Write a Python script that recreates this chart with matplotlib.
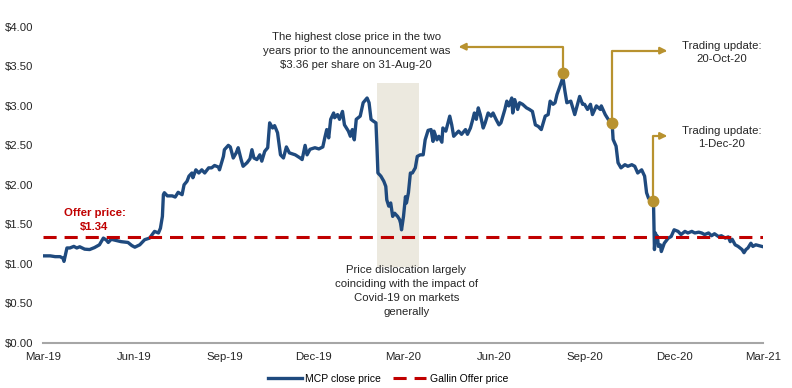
import matplotlib
matplotlib.use("Agg")
import matplotlib.pyplot as plt
import matplotlib.dates as mdates
import pandas as pd

plt.rcParams['font.family'] = ['Liberation Sans', 'DejaVu Sans']

# MCP closing prices
dates = [
    '2019-03-22', '2019-03-29', '2019-04-03', '2019-04-08', '2019-04-11', '2019-04-12', '2019-04-15', '2019-04-18',
    '2019-04-22', '2019-04-25', '2019-04-28', '2019-05-03', '2019-05-08', '2019-05-13', '2019-05-18', '2019-05-22',
    '2019-05-25', '2019-05-27', '2019-05-30', '2019-06-04', '2019-06-09', '2019-06-16', '2019-06-20', '2019-06-23',
    '2019-06-28', '2019-07-03', '2019-07-08', '2019-07-13', '2019-07-17', '2019-07-19', '2019-07-21', '2019-07-22',
    '2019-07-23', '2019-07-26', '2019-07-31', '2019-08-03', '2019-08-06', '2019-08-10', '2019-08-12', '2019-08-15',
    '2019-08-17', '2019-08-20', '2019-08-21', '2019-08-24', '2019-08-27', '2019-08-30', '2019-09-02', '2019-09-06',
    '2019-09-09', '2019-09-12', '2019-09-16', '2019-09-17', '2019-09-21', '2019-09-22', '2019-09-26', '2019-09-28',
    '2019-10-01', '2019-10-04', '2019-10-06', '2019-10-09', '2019-10-11', '2019-10-15', '2019-10-18', '2019-10-20',
    '2019-10-22', '2019-10-25', '2019-10-28', '2019-10-30', '2019-11-02', '2019-11-05', '2019-11-07', '2019-11-10',
    '2019-11-12', '2019-11-15', '2019-11-18', '2019-11-21', '2019-11-24', '2019-11-27', '2019-12-03', '2019-12-08',
    '2019-12-10', '2019-12-13', '2019-12-15', '2019-12-18', '2019-12-23', '2019-12-27', '2019-12-31', '2020-01-02',
    '2020-01-04', '2020-01-06', '2020-01-08', '2020-01-11', '2020-01-12', '2020-01-15', '2020-01-17', '2020-01-20',
    '2020-01-22', '2020-01-26', '2020-01-28', '2020-01-30', '2020-02-01', '2020-02-03', '2020-02-07', '2020-02-10',
    '2020-02-14', '2020-02-16', '2020-02-18', '2020-02-20', '2020-02-23', '2020-02-24', '2020-02-25', '2020-02-28',
    '2020-03-02', '2020-03-04', '2020-03-05', '2020-03-07', '2020-03-09', '2020-03-11', '2020-03-13', '2020-03-16',
    '2020-03-18', '2020-03-19', '2020-03-20', '2020-03-22', '2020-03-24', '2020-03-25', '2020-03-27', '2020-03-29',
    '2020-03-31', '2020-04-03', '2020-04-05', '2020-04-08', '2020-04-11', '2020-04-13', '2020-04-16', '2020-04-19',
    '2020-04-21', '2020-04-22', '2020-04-25', '2020-04-27', '2020-04-30', '2020-05-01', '2020-05-04', '2020-05-08',
    '2020-05-10', '2020-05-12', '2020-05-17', '2020-05-20', '2020-05-24', '2020-05-26', '2020-05-29', '2020-05-31',
    '2020-06-02', '2020-06-04', '2020-06-06', '2020-06-08', '2020-06-11', '2020-06-13', '2020-06-16', '2020-06-19',
    '2020-06-21', '2020-06-24', '2020-06-27', '2020-06-29', '2020-07-03', '2020-07-05', '2020-07-07', '2020-07-10',
    '2020-07-11', '2020-07-13', '2020-07-16', '2020-07-18', '2020-07-21', '2020-07-25', '2020-07-28', '2020-07-31',
    '2020-08-03', '2020-08-06', '2020-08-09', '2020-08-13', '2020-08-16', '2020-08-18', '2020-08-21', '2020-08-23',
    '2020-08-25', '2020-08-28', '2020-08-31', '2020-09-02', '2020-09-04', '2020-09-08', '2020-09-12', '2020-09-17',
    '2020-09-20', '2020-09-22', '2020-09-25', '2020-09-28', '2020-09-30', '2020-10-04', '2020-10-08', '2020-10-09',
    '2020-10-13', '2020-10-16', '2020-10-20', '2020-10-21', '2020-10-24', '2020-10-26', '2020-10-29', '2020-11-02',
    '2020-11-05', '2020-11-09', '2020-11-12', '2020-11-15', '2020-11-19', '2020-11-22', '2020-11-24', '2020-11-26',
    '2020-12-01', '2020-12-02', '2020-12-03', '2020-12-04', '2020-12-05', '2020-12-06', '2020-12-08', '2020-12-09',
    '2020-12-12', '2020-12-16', '2020-12-19', '2020-12-22', '2020-12-26', '2020-12-29', '2021-01-02', '2021-01-05',
    '2021-01-09', '2021-01-12', '2021-01-16', '2021-01-19', '2021-01-22', '2021-01-26', '2021-01-29', '2021-02-01',
    '2021-02-05', '2021-02-08', '2021-02-12', '2021-02-15', '2021-02-17', '2021-02-19', '2021-02-22', '2021-02-25',
    '2021-03-01', '2021-03-03', '2021-03-05', '2021-03-07', '2021-03-10', '2021-03-12', '2021-03-15', '2021-03-18',
    '2021-03-21',
]
prices = [
    1.10, 1.10, 1.09, 1.09, 1.07, 1.03, 1.20, 1.20,
    1.22, 1.20, 1.215, 1.185, 1.18, 1.205, 1.24, 1.325,
    1.30, 1.27, 1.31, 1.295, 1.28, 1.27, 1.23, 1.21,
    1.24, 1.305, 1.325, 1.41, 1.39, 1.45, 1.60, 1.875,
    1.90, 1.86, 1.86, 1.845, 1.905, 1.875, 2.00, 2.045,
    2.11, 2.15, 2.09, 2.19, 2.15, 2.19, 2.15, 2.215,
    2.215, 2.245, 2.225, 2.19, 2.36, 2.445, 2.50, 2.48,
    2.34, 2.405, 2.47, 2.32, 2.235, 2.28, 2.33, 2.445,
    2.34, 2.32, 2.38, 2.30, 2.425, 2.47, 2.785, 2.72,
    2.75, 2.66, 2.38, 2.34, 2.48, 2.405, 2.38, 2.34,
    2.32, 2.50, 2.38, 2.45, 2.47, 2.455, 2.48, 2.595,
    2.70, 2.595, 2.83, 2.91, 2.85, 2.89, 2.83, 2.93,
    2.76, 2.68, 2.615, 2.70, 2.57, 2.83, 2.87, 3.04,
    3.10, 3.04, 2.83, 2.81, 2.785, 2.49, 2.15, 2.11,
    2.045, 1.98, 1.81, 1.73, 1.77, 1.60, 1.64, 1.60,
    1.56, 1.515, 1.43, 1.60, 1.85, 1.77, 1.90, 2.15,
    2.15, 2.215, 2.36, 2.38, 2.38, 2.57, 2.69, 2.70,
    2.55, 2.68, 2.57, 2.615, 2.54, 2.72, 2.68, 2.87,
    2.76, 2.615, 2.68, 2.64, 2.70, 2.64, 2.72, 2.81,
    2.91, 2.83, 2.975, 2.89, 2.72, 2.785, 2.91, 2.87,
    2.91, 2.83, 2.76, 2.785, 2.955, 3.06, 3.00, 3.10,
    2.91, 3.08, 2.955, 3.04, 3.02, 2.975, 2.955, 2.93,
    2.76, 2.74, 2.70, 2.87, 2.89, 3.06, 3.02, 3.04,
    3.145, 3.25, 3.36, 3.19, 3.04, 3.06, 2.89, 3.12,
    3.02, 3.02, 2.955, 3.02, 2.89, 3.00, 2.955, 3.00,
    2.89, 2.83, 2.78, 2.575, 2.49, 2.28, 2.215, 2.255,
    2.235, 2.255, 2.235, 2.15, 2.19, 2.11, 1.90, 1.83,
    1.80, 1.18, 1.39, 1.33, 1.35, 1.22, 1.24, 1.155,
    1.26, 1.325, 1.345, 1.43, 1.41, 1.37, 1.41, 1.39,
    1.41, 1.39, 1.40, 1.39, 1.37, 1.39, 1.355, 1.38,
    1.345, 1.355, 1.325, 1.34, 1.28, 1.31, 1.24, 1.22,
    1.18, 1.14, 1.18, 1.20, 1.26, 1.22, 1.24, 1.23,
    1.22,
]

offer_price = 1.34
event_dates = ['2020-08-31', '2020-10-20', '2020-12-01']
event_texts = [
    'The highest close price in the two\nyears prior to the announcement was\n$3.36 per share on 31-Aug-20',
    'Trading update:\n20-Oct-20',
    'Trading update:\n1-Dec-20',
]
tick_dates = ['2019-03-22', '2019-06-22', '2019-09-22', '2019-12-22', '2020-03-22',
              '2020-06-22', '2020-09-22', '2020-12-22', '2021-03-22']
covid_start, covid_end = '2020-02-24', '2020-04-07'

# colours
blue = '#1F4A7E'
red = '#C00000'
gold = '#B8922F'
shade = '#ECE9DF'
txt = '#262626'

s = pd.Series(prices, index=pd.to_datetime(dates))

fig = plt.figure(figsize=(7.92, 3.88), dpi=100)
ax = fig.add_axes([0.0547, 0.1168, 0.9083, 0.8137])

# covid shading
ax.axvspan(pd.Timestamp(covid_start), pd.Timestamp(covid_end), ymin=0.241, ymax=0.821,
           color=shade, lw=0, zorder=0)

ax.plot(s.index, s.values, color=blue, lw=2.4, solid_joinstyle='round', zorder=3,
        label='MCP close price')
ax.axhline(offer_price, color=red, lw=2.2, dashes=(4.3, 2.6), zorder=4,
           label='Gallin Offer price')

# event markers and arrows
levels = [3.75, 3.70, 2.62]
tips = ['2020-05-17', '2020-12-15', '2020-12-15']
text_pos = [('2020-02-03', 3.70), ('2021-02-08', 3.68), ('2021-02-08', 2.60)]
spacing = [1.5, 1.4, 1.4]
lift = [0.06, 0.0, 0.0]
for d, lv, tip, (tx, ty), ls, dy, label in zip(event_dates, levels, tips, text_pos, spacing,
                                               lift, event_texts):
    dt = pd.Timestamp(d)
    p = s[dt] + dy
    ax.annotate('', xy=(pd.Timestamp(tip), lv), xytext=(dt, p),
                arrowprops=dict(arrowstyle='-|>', color=gold, lw=1.6, shrinkA=0, shrinkB=0,
                                mutation_scale=10,
                                connectionstyle='angle,angleA=90,angleB=0,rad=0'),
                zorder=5)
    ax.plot([dt], [p], 'o', color=gold, ms=7.5, zorder=6)
    ax.text(pd.Timestamp(tx), ty, label, ha='center', va='center', fontsize=8.2,
            color=txt, linespacing=ls)

ax.text(pd.Timestamp('2019-05-13'), 1.555, 'Offer price:\n$1.34', ha='center', va='center',
        fontsize=8.2, fontweight='bold', color=red, linespacing=1.4)
ax.text(pd.Timestamp('2020-03-25'), 0.655,
        'Price dislocation largely\ncoinciding with the impact of\nCovid-19 on markets\ngenerally',
        ha='center', va='center', fontsize=8.2, color=txt, linespacing=1.5)

ax.set_xlim(pd.Timestamp(tick_dates[0]), pd.Timestamp(tick_dates[-1]))
ax.set_ylim(0, 4)
ax.set_xticks(pd.to_datetime(tick_dates))
ax.xaxis.set_major_formatter(mdates.DateFormatter('%b-%y'))
ax.set_yticks([0, 0.5, 1, 1.5, 2, 2.5, 3, 3.5, 4])
ax.yaxis.set_major_formatter(plt.FuncFormatter(lambda v, _: f'${v:.2f}'))
ax.tick_params(axis='both', length=0, labelsize=8.2, labelcolor=txt)
ax.tick_params(axis='y', pad=7)
ax.tick_params(axis='x', pad=7)

for side in ['top', 'right', 'left']:
    ax.spines[side].set_visible(False)
ax.spines['bottom'].set_color('#A6A6A6')
ax.spines['bottom'].set_linewidth(1.5)

fig.legend(loc='center', bbox_to_anchor=(0.49, 0.023), ncol=2, frameon=False,
           fontsize=7.5, handlelength=3.2, columnspacing=1.2, handletextpad=0.3)

plt.savefig('out.png', dpi=100)
